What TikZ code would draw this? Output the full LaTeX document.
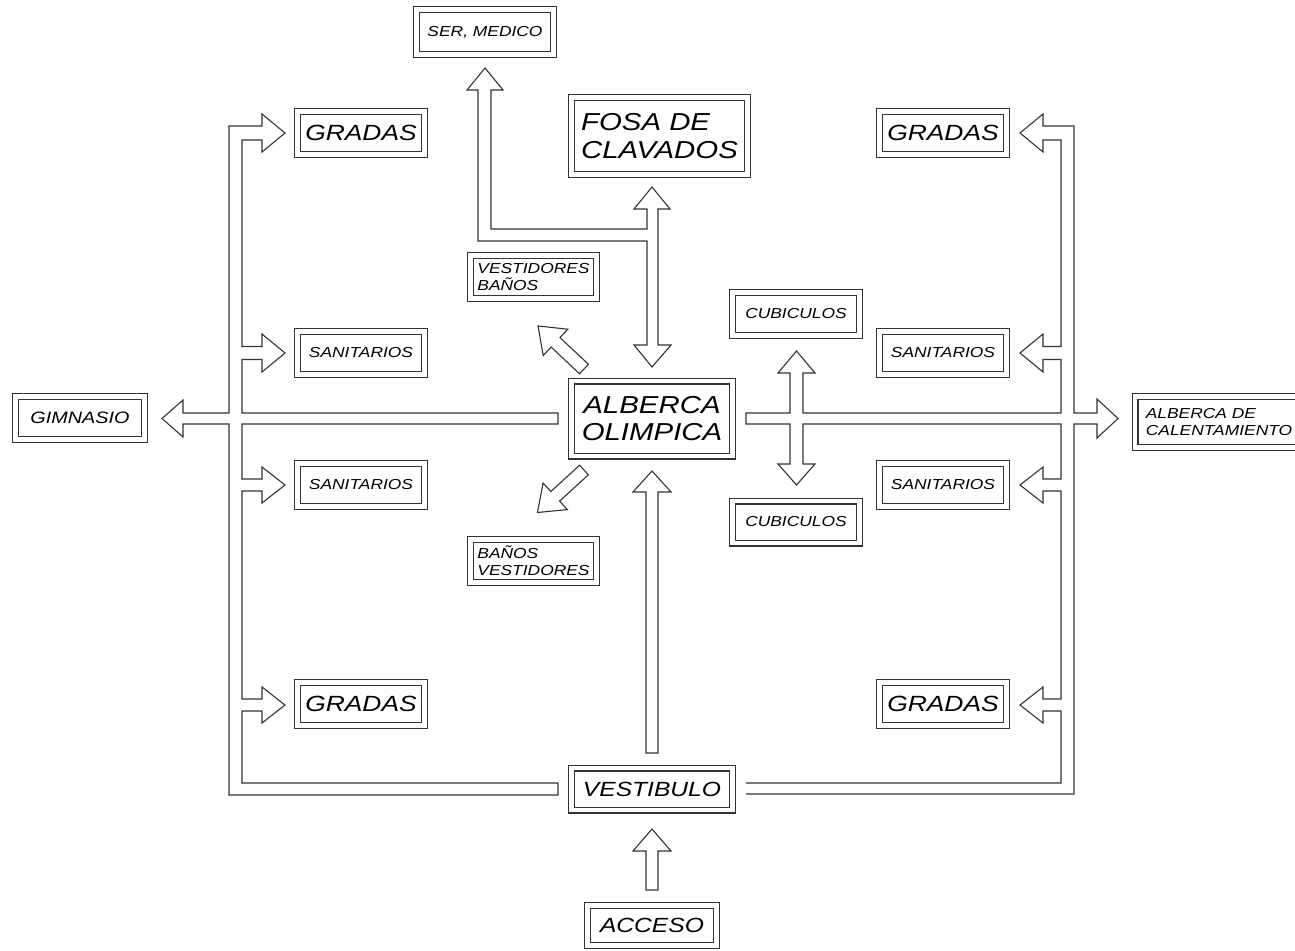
\documentclass[tikz,border=0pt]{standalone}
\usepackage{fontspec}
\setmainfont{Liberation Sans}[FakeStretch=1.2]
\usepackage{xcolor}
\usepackage{tikz}
\definecolor{linea}{rgb}{0.2,0.2,0.2}

\begin{document}
\begin{tikzpicture}[x=1pt,y=-1pt]
\tikzset{
    sala/.style    = {draw=linea, double, double distance=4.8pt, line width=1.1pt, inner sep=0pt, align=center},
    chica/.style   = {font=\itshape\fontsize{14.5}{17}\selectfont},
    media/.style   = {font=\itshape\fontsize{20.5}{24}\selectfont},
    grande/.style  = {font=\itshape\fontsize{24.5}{27.5}\selectfont},
    gradas/.style  = {sala, font=\itshape\fontsize{22}{26}\selectfont, minimum width=127.5pt, minimum height=43.5pt},
    sanit/.style   = {sala, chica, minimum width=127.5pt, minimum height=43pt},
    pasillo/.style = {draw=linea, line width=1.1pt}
}
\useasboundingbox (0,0) rectangle (1295,950);

% locales
\node [sala, chica, minimum width=136.5pt, minimum height=44.5pt] (ser) at (485,32) {SER, MEDICO};
\node [sala, grande, align=left, minimum width=176pt, minimum height=77pt] (fosa) at (659.5,136) {FOSA DE\\CLAVADOS};
\node [sala, chica, align=left, minimum width=126pt, minimum height=42.5pt] (vestban) at (533.5,277) {VESTIDORES\\BAÑOS};
\node [sala, chica, align=left, minimum width=126pt, minimum height=42.5pt] (banvest) at (533.5,561) {BAÑOS\\VESTIDORES};
\node [sala, grande, minimum width=161pt, minimum height=75pt] (olimpica) at (652,418.5) {ALBERCA\\OLIMPICA};
\node [sala, font=\itshape\fontsize{16.5}{20}\selectfont, minimum width=128.5pt, minimum height=43pt] (gimnasio) at (80,418) {GIMNASIO};
\node [sala, chica, align=left, minimum width=168pt, minimum height=50.5pt] (calent) at (1219,422) {ALBERCA DE\\CALENTAMIENTO};
\node [sala, chica, minimum width=126.5pt, minimum height=43.5pt] (cubn) at (796,314) {CUBICULOS};
\node [sala, chica, minimum width=126.5pt, minimum height=42pt] (cubs) at (796,522) {CUBICULOS};
\node [sala, media, minimum width=161pt, minimum height=42pt] (vestibulo) at (652,789) {VESTIBULO};
\node [sala, media, minimum width=128.5pt, minimum height=40pt] (acceso) at (652,925.5) {ACCESO};

\node [gradas] (gradasno) at (361,133) {GRADAS};
\node [gradas] (gradasne) at (943,133) {GRADAS};
\node [gradas] (gradasso) at (361,704) {GRADAS};
\node [gradas] (gradasse) at (943,704) {GRADAS};
\node [sanit] (sanno) at (361,353) {SANITARIOS};
\node [sanit] (sanso) at (361,485) {SANITARIOS};
\node [sanit] (sanne) at (943,353) {SANITARIOS};
\node [sanit] (sanse) at (943,485) {SANITARIOS};

% pasillo izquierdo
\draw [pasillo] (262,126) -- (229,126) -- (229,413) -- (183,413) -- (183,400) -- (162,418.5) -- (183,437) -- (183,424)
   -- (229,424) -- (229,795) -- (558,795) -- (558,783) -- (242,783) -- (242,711) -- (262,711) -- (262,723)
   -- (285,705) -- (262,687) -- (262,699) -- (242,699) -- (242,491) -- (262,491) -- (262,503) -- (285,485)
   -- (262,467) -- (262,479) -- (242,479) -- (242,424) -- (558,424) -- (558,413) -- (242,413) -- (242,359.5)
   -- (262,359.5) -- (262,372) -- (285,353) -- (262,334) -- (262,346.5) -- (242,346.5) -- (242,140)
   -- (262,140) -- (262,152) -- (285,133) -- (262,114) -- cycle;

% pasillo derecho y cubiculos
\draw [pasillo] (746,783) -- (1061,783) -- (1061,711) -- (1043,711) -- (1043,723) -- (1020,705) -- (1043,687)
   -- (1043,699) -- (1061,699) -- (1061,491) -- (1043,491) -- (1043,503) -- (1020,485) -- (1043,467)
   -- (1043,479) -- (1061,479) -- (1061,424) -- (803,424) -- (803,464) -- (815,464) -- (796.5,485)
   -- (778,464) -- (790,464) -- (790,424) -- (746,424) -- (746,413) -- (790,413) -- (790,373) -- (778,373)
   -- (796.5,351) -- (815,373) -- (803,373) -- (803,413) -- (1061,413) -- (1061,359.5) -- (1043,359.5)
   -- (1043,372) -- (1020,353) -- (1043,334) -- (1043,346.5) -- (1061,346.5) -- (1061,140) -- (1043,140)
   -- (1043,152) -- (1020,133) -- (1043,114) -- (1043,126) -- (1074,126) -- (1074,413) -- (1097,413)
   -- (1097,399) -- (1118,418.5) -- (1097,438) -- (1097,424) -- (1074,424) -- (1074,794) -- (746,794);

% fosa y servicio medico
\draw [pasillo] (658,209) -- (670,209) -- (652,187) -- (634,209) -- (647,209) -- (647,229) -- (491,229)
   -- (491,90) -- (503,90) -- (485,68) -- (467,90) -- (478,90) -- (478,241) -- (647,241) -- (647,345)
   -- (634,345) -- (652,367) -- (671,345) -- (658,345) -- cycle;

% accesos centrales
\draw [pasillo] (646,753) -- (646,492) -- (633,492) -- (652,471) -- (671,492) -- (658,492) -- (658,753) -- cycle;
\draw [pasillo] (646,890) -- (646,851) -- (633,851) -- (652,829) -- (671,851) -- (658,851) -- (658,890) -- cycle;

% vestidores
\draw [pasillo, shift={(584,369)}, rotate=136.9]
   (0,-6.5) -- (39,-6.5) -- (39,-18) -- (63,0) -- (39,18) -- (39,6.5) -- (0,6.5) -- cycle;
\draw [pasillo, shift={(584,470)}, rotate=222.4]
   (0,-6.5) -- (39,-6.5) -- (39,-18) -- (63,0) -- (39,18) -- (39,6.5) -- (0,6.5) -- cycle;
\end{tikzpicture}
\end{document}
